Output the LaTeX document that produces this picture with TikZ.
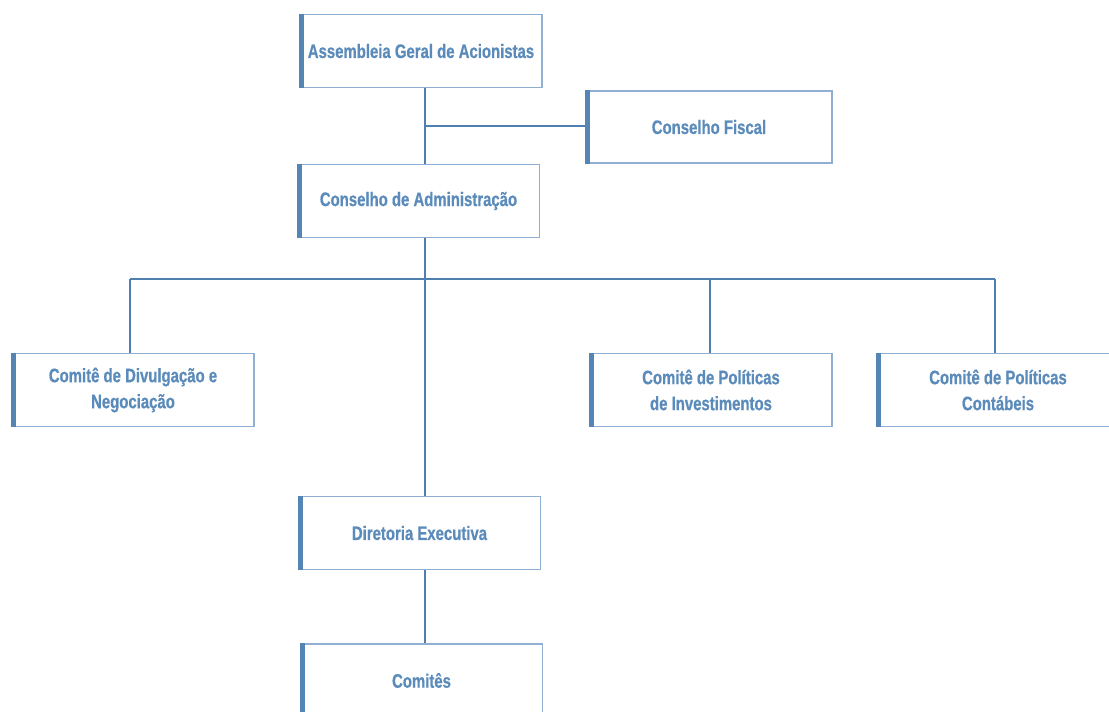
\documentclass[tikz,border=0pt]{standalone}
\usepackage{fontspec}
\newfontfamily\boxfont{Liberation Sans}[FakeStretch=0.765,FakeBold=0.6]
\definecolor{txtc}{HTML}{5A8BBA}
\definecolor{edgec}{HTML}{8FB0D2}
\definecolor{barc}{HTML}{5585B5}
\definecolor{linec}{HTML}{4F7FAF}
\begin{document}
\begin{tikzpicture}[x=1pt,y=-1pt,
  orgbox/.style={draw=edgec, line width=1.2pt, fill=white, minimum width=242pt, minimum height=73pt,
    inner sep=0pt, align=center, text=txtc,
    font=\boxfont\bfseries\fontsize{19.5}{26}\selectfont},
  conn/.style={draw=linec, line width=1.6pt},
  bar/.style={draw=barc, line width=5pt}]
\useasboundingbox (0,0) rectangle (1109,712);
\clip (0,0) rectangle (1109,712);
\coordinate (j1) at (425,126);
\coordinate (j2) at (425,279);
\coordinate (jl) at (130,279);
\coordinate (jm) at (710,279);
\coordinate (jr) at (995,279);
\node[orgbox] (ag) at (421,51) {Assembleia Geral de Acionistas};
\node[orgbox, minimum width=246pt, minimum height=72pt] (cf) at (709,127) {Conselho Fiscal};
\node[orgbox] (ca) at (418.5,201) {Conselho de Administração};
\node[orgbox] (cd) at (133,390) {Comitê de Divulgação e\\Negociação};
\node[orgbox] (ci) at (711,390) {Comitê de Políticas\\de Investimentos};
\node[orgbox] (cc) at (998,390) {Comitê de Políticas\\Contábeis};
\node[orgbox] (de) at (419.5,533) {Diretoria Executiva};
\node[orgbox] (co) at (421.5,680.5) {Comitês};
\draw[conn] (ag.south -| j1) -- (ca.north -| j1);
\draw[conn] (j1) -- (j1 -| cf.west);
\draw[conn] (ca.south -| j2) -- (de.north -| j2);
\draw[conn] (jl) -- (jr);
\draw[conn] (jl) -- (cd.north -| jl);
\draw[conn] (jm) -- (ci.north -| jm);
\draw[conn] (jr) -- (cc.north -| jr);
\draw[conn] (de.south -| j2) -- (co.north -| j2);
\foreach \n in {ag,cf,ca,cd,ci,cc,de,co}{
  \draw[bar] ([xshift=2.5pt]\n.south west) -- ([xshift=2.5pt]\n.north west);
}
\end{tikzpicture}
\end{document}
